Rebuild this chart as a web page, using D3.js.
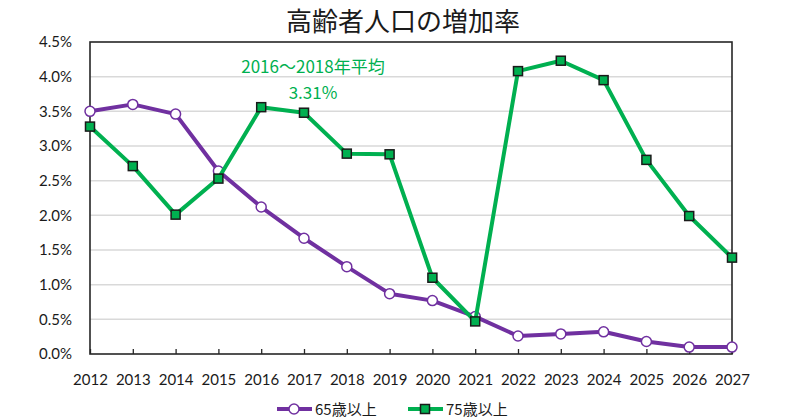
<!DOCTYPE html>
<html><head><meta charset="utf-8">
<script src="https://cdn.jsdelivr.net/npm/d3@7"></script>
<style>
html,body{margin:0;padding:0;background:#fff;overflow:hidden;}
svg{display:block;}
</style></head>
<body>
<svg id="chart" width="800" height="419"></svg>
<script>
const years = ["2012","2013","2014","2015","2016","2017","2018","2019","2020","2021","2022","2023","2024","2025","2026","2027"];
const age65 = [3.50,3.60,3.46,2.64,2.12,1.67,1.26,0.87,0.77,0.54,0.26,0.29,0.32,0.18,0.10,0.10];
const age75 = [3.28,2.71,2.01,2.53,3.56,3.48,2.89,2.88,1.10,0.47,4.08,4.23,3.95,2.80,1.99,1.39];
const yTicks = [0,0.5,1.0,1.5,2.0,2.5,3.0,3.5,4.0,4.5];
const seriesNames = ["65歳以上","75歳以上"];
const titleText = "高齢者人口の増加率";
const noteLines = ["2016〜2018年平均","3.31%"];

const svg = d3.select("#chart");
const L = 90, R = 732, T = 42, B = 354;
const numFont = "Lato, 'Noto Sans CJK JP', sans-serif";
const jpFont = "'Noto Sans CJK JP', sans-serif";
const purple = "#7030a0", green = "#00b050";

const x = d3.scalePoint().domain(years).range([L, R]);
const y = d3.scaleLinear().domain([0, 4.5]).range([B, T]);

// title
svg.append("text").attr("x", 403).attr("y", 31).attr("text-anchor", "middle")
  .attr("font-family", jpFont).attr("font-size", 26).attr("fill", "#1a1a1a").text(titleText);

// gridlines
svg.append("g").selectAll("line").data(yTicks.filter(d => d > 0 && d < 4.5)).join("line")
  .attr("x1", L).attr("x2", R).attr("y1", d => y(d)).attr("y2", d => y(d))
  .attr("stroke", "#d9d9d9").attr("stroke-width", 1.5);

// y axis
const ya = svg.append("g").attr("transform", `translate(${L},0)`)
  .call(d3.axisLeft(y).tickValues(yTicks).tickSize(0).tickPadding(18).tickFormat(d => d.toFixed(1) + "%"));
ya.select(".domain").remove();
ya.selectAll("text").attr("font-family", numFont).attr("font-size", 15).attr("fill", "#1a1a1a");

// x axis
const xa = svg.append("g").attr("transform", `translate(0,${B})`)
  .call(d3.axisBottom(x).tickSize(-5).tickPadding(20));
xa.select(".domain").remove();
xa.selectAll("line").attr("stroke", "#262626").attr("stroke-width", 1.3);
xa.selectAll("text").attr("font-family", numFont).attr("font-size", 15).attr("fill", "#1a1a1a");

// frame
svg.append("rect").attr("x", L).attr("y", T).attr("width", R - L).attr("height", B - T)
  .attr("fill", "none").attr("stroke", "#262626").attr("stroke-width", 1.6);

const line = d3.line().x((d, i) => x(years[i])).y(d => y(d));

// series 65
svg.append("path").datum(age65).attr("d", line).attr("fill", "none")
  .attr("stroke", purple).attr("stroke-width", 4).attr("stroke-linejoin", "round");
svg.append("g").selectAll("circle").data(age65).join("circle")
  .attr("cx", (d, i) => x(years[i])).attr("cy", d => y(d)).attr("r", 5)
  .attr("fill", "#fff").attr("stroke", purple).attr("stroke-width", 1.5);

// series 75
svg.append("path").datum(age75).attr("d", line).attr("fill", "none")
  .attr("stroke", green).attr("stroke-width", 4).attr("stroke-linejoin", "round");
svg.append("g").selectAll("rect").data(age75).join("rect")
  .attr("x", (d, i) => x(years[i]) - 4.5).attr("y", d => y(d) - 4.5)
  .attr("width", 9).attr("height", 9)
  .attr("fill", green).attr("stroke", "#1a1a1a").attr("stroke-width", 1.5);

// annotation
svg.append("text").attr("x", 313).attr("y", 73).attr("text-anchor", "middle")
  .attr("font-family", jpFont).attr("font-size", 17).attr("fill", green).text(noteLines[0]);
svg.append("text").attr("x", 313).attr("y", 99).attr("text-anchor", "middle")
  .attr("font-family", jpFont).attr("font-size", 17).attr("fill", green).text(noteLines[1]);

// legend
const lg = svg.append("g");
const legendItems = [
  {name: seriesNames[0], color: purple, x0: 277, marker: "circle"},
  {name: seriesNames[1], color: green, x0: 408, marker: "rect"}
];
const ly = 409;
legendItems.forEach(it => {
  lg.append("line").attr("x1", it.x0).attr("x2", it.x0 + 35).attr("y1", ly).attr("y2", ly)
    .attr("stroke", it.color).attr("stroke-width", 4);
  if (it.marker === "circle") {
    lg.append("circle").attr("cx", it.x0 + 17).attr("cy", ly).attr("r", 5)
      .attr("fill", "#fff").attr("stroke", it.color).attr("stroke-width", 1.5);
  } else {
    lg.append("rect").attr("x", it.x0 + 17 - 4.5).attr("y", ly - 4.5).attr("width", 9).attr("height", 9)
      .attr("fill", it.color).attr("stroke", "#1a1a1a").attr("stroke-width", 1.5);
  }
  lg.append("text").attr("x", it.x0 + 38).attr("y", ly + 5.5)
    .attr("font-family", jpFont).attr("font-size", 15).attr("fill", "#1a1a1a").text(it.name);
});
</script>
</body></html>
